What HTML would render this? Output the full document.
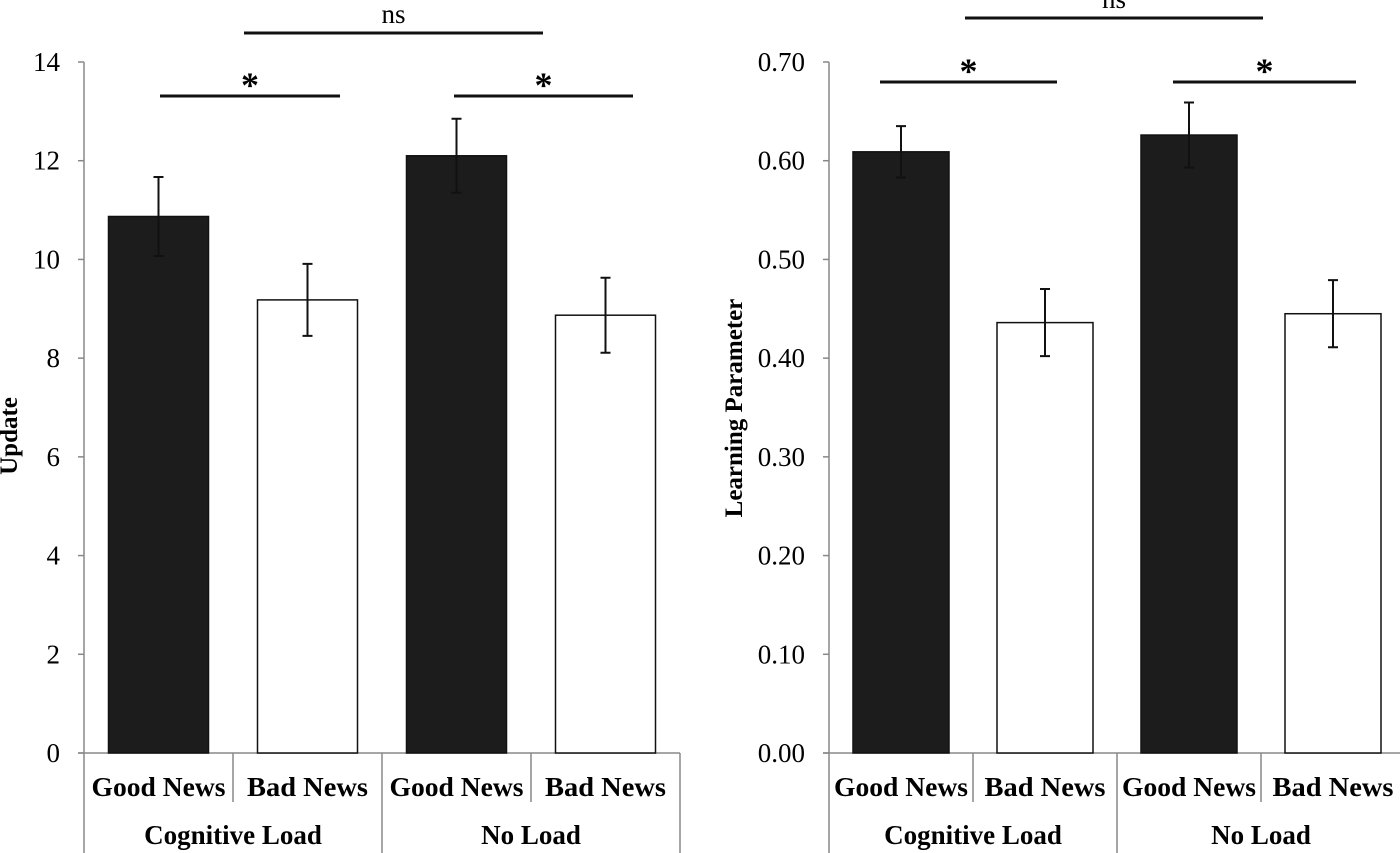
<!DOCTYPE html>
<html><head><meta charset="utf-8"><style>
html,body{margin:0;padding:0;background:#fff;}
svg{display:block;font-family:"Liberation Serif",serif;}
</style></head><body>
<svg id="chart" width="1400" height="853" viewBox="0 0 1400 853"></svg>
<script>
const categories = ["Good News","Bad News","Good News","Bad News"];
const groups = ["Cognitive Load","No Load"];
const updateValues = [10.87, 9.18, 12.1, 8.87];
const updateErrors = [0.8, 0.73, 0.75, 0.76];
const updateTicks = ["0","2","4","6","8","10","12","14"];
const learnValues = [0.609, 0.436, 0.626, 0.445];
const learnErrors = [0.026, 0.034, 0.033, 0.034];
const learnTicks = ["0.00","0.10","0.20","0.30","0.40","0.50","0.60","0.70"];
const fills = ["#1c1c1c","#ffffff","#1c1c1c","#ffffff"];
const labelLens = [134, 121, 134, 121];

const NS = "http://www.w3.org/2000/svg";
const svg = document.getElementById("chart");
function mk(tag, attrs, parent){const e=document.createElementNS(NS,tag);for(const k in attrs)e.setAttribute(k,attrs[k]);(parent||svg).appendChild(e);return e;}

function drawPanel(cfg){
  const g = mk("g",{});
  
  
  const y0=753, yTop=62, max=cfg.max;
  const y = v => y0 - (v/max)*(y0-yTop);
  const x = i => cfg.axisX + cfg.catW*(i+0.5);
  const ax = mk("line",{x1:cfg.axisX,y1:yTop,x2:cfg.axisX,y2:y0,stroke:"#888","stroke-width":1.5},g);
  
  
  cfg.ticks.forEach((t,i)=>{
    const v = max*i/(cfg.ticks.length-1);
    mk("line",{x1:cfg.axisX-6,y1:y(v),x2:cfg.axisX,y2:y(v),stroke:"#888","stroke-width":1.5},g);
    const tx = mk("text",{x:cfg.axisX-24,y:y(v)+9,"text-anchor":"end","font-size":27},g);
    tx.textContent=t;
    
    
  });
  const yt = mk("text",{transform:`translate(${cfg.titleX},${cfg.titleY}) rotate(-90)`,"text-anchor":"middle","font-size":cfg.titleSize,"font-weight":"bold"},g);
  yt.textContent=cfg.title;
  
  
  const xEnd = cfg.axisX+cfg.catW*4;
  mk("line",{x1:cfg.axisX-6,y1:y0,x2:xEnd,y2:y0,stroke:"#888","stroke-width":1.5},g);
  for(let i=0;i<=4;i++){
    const bx=cfg.axisX+cfg.catW*i;
    mk("line",{x1:bx,y1:y0,x2:bx,y2:(i%2===0)?853:802,stroke:"#888","stroke-width":1.5},g);
  }
  categories.forEach((c,i)=>{
    const t=mk("text",{x:x(i),y:796,"text-anchor":"middle","font-size":27,"font-weight":"bold","textLength":labelLens[i],"lengthAdjust":"spacingAndGlyphs"},g);
    t.textContent=c;
    
    
  });
  groups.forEach((gname,j)=>{
    const t=mk("text",{x:cfg.axisX+cfg.catW*(2*j+1),y:844,"text-anchor":"middle","font-size":27,"font-weight":"bold"},g);
    t.textContent=gname;
    
    
  });
  cfg.values.forEach((v,i)=>{
    const r=mk("rect",{x:x(i)-cfg.barW/2,y:y(v),width:cfg.barW,height:y0-y(v),fill:fills[i],stroke:"#111","stroke-width":1.5},g);
    
    
    const e=cfg.errors[i];
    const eb=mk("path",{d:`M${x(i)},${y(v+e)}V${y(v-e)}M${x(i)-5},${y(v+e)}h10M${x(i)-5},${y(v-e)}h10`,stroke:"#111","stroke-width":2,fill:"none"},g);
    
    
  });
  cfg.sig.forEach(s=>{
    const l=mk("line",{x1:s[0],y1:s[2],x2:s[1],y2:s[2],stroke:"#111","stroke-width":3},g);
    
    
    const t=mk("text",{x:(s[0]+s[1])/2,y:s[4],"text-anchor":"middle","font-size":s[3]==="*"?36:27,"font-weight":s[3]==="*"?"bold":"normal"},g);
    t.textContent=s[3];
    
    
  });
}
drawPanel({name:"update-chart",axisX:84,catW:149,barW:100,max:14,ticks:updateTicks,values:updateValues,errors:updateErrors,
  title:"Update",titleX:17,titleY:436,titleSize:25,
  sig:[[160,340,96,"*",97],[454,633,96,"*",97],[244,543,33,"ns",23]]});
drawPanel({name:"learning-parameter-chart",axisX:829,catW:144,barW:96,max:0.7,ticks:learnTicks,values:learnValues,errors:learnErrors,
  title:"Learning Parameter",titleX:742,titleY:408,titleSize:25,
  sig:[[880,1057,82,"*",83],[1173,1356,82,"*",83],[965,1263,18,"ns",8]]});
</script>
</body></html>
